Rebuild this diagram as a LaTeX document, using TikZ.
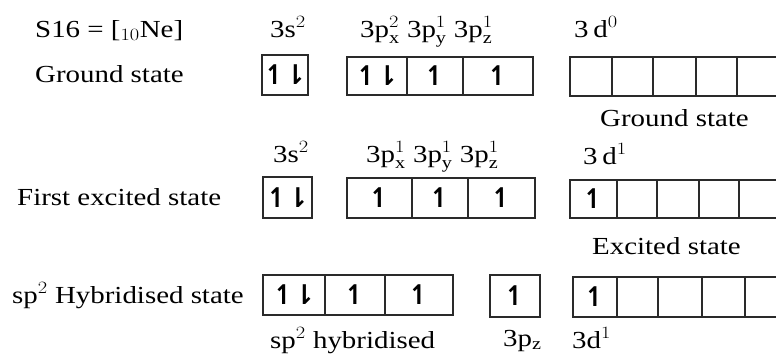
\documentclass[tikz,border=0pt]{standalone}
\usepackage{fontspec}
\setmainfont{Liberation Serif}
\newfontfamily\arrowfont{DejaVu Sans}
\usepackage{graphicx}
\newcommand{\sx}[1]{\scalebox{1.18}[1]{#1}}
\newcommand{\hup}{{\arrowfont\bfseries\symbol{"21BF}}}
\newcommand{\hdn}{{\arrowfont\bfseries\symbol{"21C2}}}
\definecolor{boxline}{HTML}{2A2A2A}
\tikzset{
  lab/.style={inner sep=0pt, anchor=base west, text=black, font=\fontsize{24.5}{28}\selectfont},
  cellline/.style={draw=boxline, line width=1.9pt},
  arr/.style={inner sep=0pt, text=black, font=\fontsize{27}{30}\selectfont}
}
\newcommand{\cel}[6]{%
  \draw[cellline] (#2,#3) rectangle (#4,#5);
  \node[arr] (#1) at ({(#2+#4)/2},{(#3+#5)/2}) {#6};}
\begin{document}
\begin{tikzpicture}[x=1pt,y=-1pt]
\useasboundingbox[fill=white] (0,0) rectangle (776,354);
% row 1
\node[lab] (s16) at (35,37) {\sx{S16 = [$_{10}$Ne]}};
\node[lab] (gs) at (35,82) {\sx{Ground state}};
\node[lab] (l1s) at (270,37) {\sx{3s$^2$}};
\node[lab] (l1p) at (360,37) {\sx{3p$_\mathrm{x}^2$ 3p$_\mathrm{y}^1$ 3p$_\mathrm{z}^1$}};
\node[lab] (l1d) at (574,37) {\sx{3\,d$^0$}};
\node[lab] (gs2) at (600,126) {\sx{Ground state}};
\cel{a1}{262}{55}{308}{95}{\hup\hspace{-2pt}\hdn}
\cel{a2}{347}{57}{407}{95}{\hup\hspace{-2pt}\hdn}
\cel{a3}{407}{57}{463}{95}{\hup}
\cel{a4}{463}{57}{533}{95}{\hup}
\cel{a5}{570}{57}{612}{96}{}
\cel{a6}{612}{57}{653}{96}{}
\cel{a7}{653}{57}{696}{96}{}
\cel{a8}{696}{57}{737}{96}{}
\cel{a9}{737}{57}{779}{96}{}
% row 2
\node[lab] (fes) at (17,205) {\sx{First excited state}};
\node[lab] (l2s) at (273,162) {\sx{3s$^2$}};
\node[lab] (l2p) at (366,162) {\sx{3p$_\mathrm{x}^1$ 3p$_\mathrm{y}^1$ 3p$_\mathrm{z}^1$}};
\node[lab] (l2d) at (583,164) {\sx{3\,d$^1$}};
\node[lab] (es) at (592,254) {\sx{Excited state}};
\cel{b1}{263}{177}{312}{218}{\hup\hspace{-2pt}\hdn}
\cel{b2}{347}{178}{412}{218}{\hup}
\cel{b3}{412}{178}{468}{218}{\hup}
\cel{b4}{468}{178}{535}{218}{\hup}
\cel{b5}{570}{180}{617}{218}{\hup}
\cel{b6}{617}{180}{657}{218}{}
\cel{b7}{657}{180}{699}{218}{}
\cel{b8}{699}{180}{739}{218}{}
\cel{b9}{739}{180}{780}{218}{}
% row 3
\node[lab] (hs) at (12,303) {\sx{sp$^2$ Hybridised state}};
\node[lab] (l3h) at (270,348) {\sx{sp$^2$ hybridised}};
\node[lab] (l3p) at (503,346) {\sx{3p$_\mathrm{z}$}};
\node[lab] (l3d) at (572,348) {\sx{3d$^1$}};
\cel{c1}{263}{275}{325}{315}{\hup\hspace{-2pt}\hdn}
\cel{c2}{325}{275}{385}{315}{\hup}
\cel{c3}{385}{275}{453}{315}{\hup}
\cel{c4}{490}{275}{540}{317}{\hup}
\cel{c5}{573}{277}{617}{317}{\hup}
\cel{c6}{617}{277}{658}{317}{}
\cel{c7}{658}{277}{702}{317}{}
\cel{c8}{702}{277}{745}{317}{}
\cel{c9}{745}{277}{788}{317}{}
\end{tikzpicture}
\end{document}
